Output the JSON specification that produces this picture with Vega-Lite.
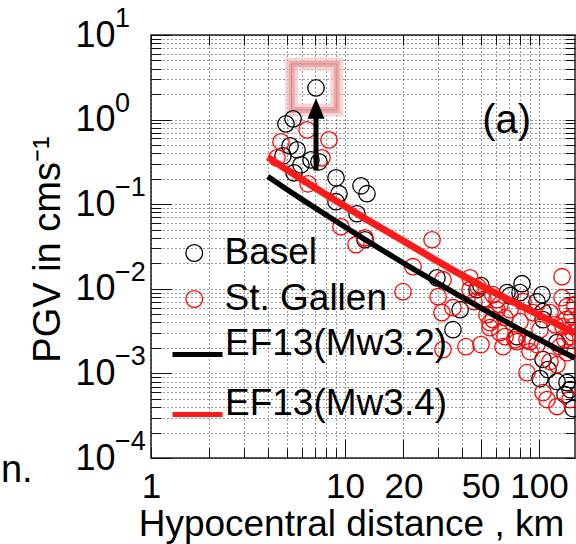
{
  "$schema": "https://vega.github.io/schema/vega-lite/v6.json",
  "width": 424,
  "height": 423,
  "autosize": {"type": "none"},
  "padding": {"left": 151, "top": 35, "right": 1, "bottom": 86},
  "background": "white",
  "config": {
    "view": {"stroke": "#222", "strokeWidth": 1.5},
    "font": "Liberation Sans"
  },
  "datasets": {
    "points": [
      {"site": "Basel", "d": 4.96, "pgv": 0.889},
      {"site": "Basel", "d": 5.40, "pgv": 1.02},
      {"site": "Basel", "d": 5.21, "pgv": 0.489},
      {"site": "Basel", "d": 5.66, "pgv": 0.439},
      {"site": "Basel", "d": 4.79, "pgv": 0.373},
      {"site": "Basel", "d": 5.93, "pgv": 0.292},
      {"site": "Basel", "d": 5.46, "pgv": 0.235},
      {"site": "Basel", "d": 7.34, "pgv": 0.317},
      {"site": "Basel", "d": 6.68, "pgv": 0.334},
      {"site": "Basel", "d": 7.09, "pgv": 2.37},
      {"site": "Basel", "d": 8.99, "pgv": 0.205},
      {"site": "Basel", "d": 12.09, "pgv": 0.165},
      {"site": "Basel", "d": 12.98, "pgv": 0.133},
      {"site": "Basel", "d": 9.31, "pgv": 0.133},
      {"site": "Basel", "d": 8.99, "pgv": 0.107},
      {"site": "Basel", "d": 11.53, "pgv": 0.0771},
      {"site": "Basel", "d": 12.68, "pgv": 0.038},
      {"site": "Basel", "d": 29.8, "pgv": 0.0135},
      {"site": "Basel", "d": 36.0, "pgv": 0.00329},
      {"site": "Basel", "d": 39.2, "pgv": 0.00566},
      {"site": "Basel", "d": 50.2, "pgv": 0.0109},
      {"site": "Basel", "d": 47.9, "pgv": 0.00975},
      {"site": "Basel", "d": 68.4, "pgv": 0.0090},
      {"site": "Basel", "d": 70.9, "pgv": 0.0083},
      {"site": "Basel", "d": 81.7, "pgv": 0.01148},
      {"site": "Basel", "d": 79.8, "pgv": 0.0090},
      {"site": "Basel", "d": 103.6, "pgv": 0.00852},
      {"site": "Basel", "d": 97.7, "pgv": 0.00704},
      {"site": "Basel", "d": 104.9, "pgv": 0.00537},
      {"site": "Basel", "d": 104.9, "pgv": 0.00432},
      {"site": "Basel", "d": 77.0, "pgv": 0.00272},
      {"site": "Basel", "d": 123.8, "pgv": 0.00231},
      {"site": "Basel", "d": 104.9, "pgv": 0.00146},
      {"site": "Basel", "d": 101.2, "pgv": 0.000868},
      {"site": "Basel", "d": 123.8, "pgv": 0.0008},
      {"site": "Basel", "d": 139.4, "pgv": 0.000778},
      {"site": "Basel", "d": 144.5, "pgv": 0.000644},
      {"site": "Basel", "d": 149.7, "pgv": 0.000384},
      {"site": "Basel", "d": 136.1, "pgv": 0.000562},
      {"site": "Basel", "d": 111.3, "pgv": 0.00111},
      {"site": "St. Gallen", "d": 6.37, "pgv": 0.756},
      {"site": "St. Gallen", "d": 4.68, "pgv": 0.546},
      {"site": "St. Gallen", "d": 8.27, "pgv": 0.576},
      {"site": "St. Gallen", "d": 4.46, "pgv": 0.353},
      {"site": "St. Gallen", "d": 7.61, "pgv": 0.353},
      {"site": "St. Gallen", "d": 6.45, "pgv": 0.174},
      {"site": "St. Gallen", "d": 9.53, "pgv": 0.0541},
      {"site": "St. Gallen", "d": 11.39, "pgv": 0.0332},
      {"site": "St. Gallen", "d": 12.68, "pgv": 0.0401},
      {"site": "St. Gallen", "d": 28.1, "pgv": 0.038},
      {"site": "St. Gallen", "d": 22.4, "pgv": 0.01824},
      {"site": "St. Gallen", "d": 19.9, "pgv": 0.00925},
      {"site": "St. Gallen", "d": 30.2, "pgv": 0.00807},
      {"site": "St. Gallen", "d": 32.0, "pgv": 0.0128},
      {"site": "St. Gallen", "d": 44.1, "pgv": 0.0135},
      {"site": "St. Gallen", "d": 48.5, "pgv": 0.0106},
      {"site": "St. Gallen", "d": 31.6, "pgv": 0.00523},
      {"site": "St. Gallen", "d": 36.0, "pgv": 0.00598},
      {"site": "St. Gallen", "d": 32.0, "pgv": 0.00191},
      {"site": "St. Gallen", "d": 42.0, "pgv": 0.00207},
      {"site": "St. Gallen", "d": 50.2, "pgv": 0.00219},
      {"site": "St. Gallen", "d": 55.9, "pgv": 0.00347},
      {"site": "St. Gallen", "d": 57.9, "pgv": 0.00432},
      {"site": "St. Gallen", "d": 53.9, "pgv": 0.00494},
      {"site": "St. Gallen", "d": 60.7, "pgv": 0.00566},
      {"site": "St. Gallen", "d": 46.2, "pgv": 0.00704},
      {"site": "St. Gallen", "d": 131.4, "pgv": 0.0139},
      {"site": "St. Gallen", "d": 82.7, "pgv": 0.00704},
      {"site": "St. Gallen", "d": 131.4, "pgv": 0.00785},
      {"site": "St. Gallen", "d": 139.4, "pgv": 0.00615},
      {"site": "St. Gallen", "d": 70.9, "pgv": 0.00566},
      {"site": "St. Gallen", "d": 93.1, "pgv": 0.00523},
      {"site": "St. Gallen", "d": 114.0, "pgv": 0.00523},
      {"site": "St. Gallen", "d": 133.0, "pgv": 0.00357},
      {"site": "St. Gallen", "d": 149.7, "pgv": 0.00303},
      {"site": "St. Gallen", "d": 144.5, "pgv": 0.00272},
      {"site": "St. Gallen", "d": 62.9, "pgv": 0.00303},
      {"site": "St. Gallen", "d": 77.0, "pgv": 0.00237},
      {"site": "St. Gallen", "d": 65.2, "pgv": 0.00207},
      {"site": "St. Gallen", "d": 86.7, "pgv": 0.0025},
      {"site": "St. Gallen", "d": 114.0, "pgv": 0.00138},
      {"site": "St. Gallen", "d": 123.8, "pgv": 0.00127},
      {"site": "St. Gallen", "d": 86.7, "pgv": 0.00102},
      {"site": "St. Gallen", "d": 104.9, "pgv": 0.000593},
      {"site": "St. Gallen", "d": 110.0, "pgv": 0.000491},
      {"site": "St. Gallen", "d": 123.8, "pgv": 0.000406},
      {"site": "St. Gallen", "d": 144.5, "pgv": 0.000491},
      {"site": "St. Gallen", "d": 139.4, "pgv": 0.00176},
      {"site": "St. Gallen", "d": 128.3, "pgv": 0.00207},
      {"site": "St. Gallen", "d": 148.0, "pgv": 0.00469},
      {"site": "St. Gallen", "d": 149.7, "pgv": 0.00357},
      {"site": "St. Gallen", "d": 60.7, "pgv": 0.00743},
      {"site": "St. Gallen", "d": 51.4, "pgv": 0.00743},
      {"site": "St. Gallen", "d": 66.8, "pgv": 0.00456},
      {"site": "St. Gallen", "d": 79.8, "pgv": 0.00409},
      {"site": "St. Gallen", "d": 101.2, "pgv": 0.00329},
      {"site": "St. Gallen", "d": 89.9, "pgv": 0.00181},
      {"site": "St. Gallen", "d": 120.9, "pgv": 0.00377},
      {"site": "St. Gallen", "d": 136.1, "pgv": 0.0025},
      {"site": "St. Gallen", "d": 97.7, "pgv": 0.00219},
      {"site": "St. Gallen", "d": 44.1, "pgv": 0.00975},
      {"site": "St. Gallen", "d": 57.9, "pgv": 0.00852},
      {"site": "St. Gallen", "d": 62.9, "pgv": 0.00649},
      {"site": "St. Gallen", "d": 55.9, "pgv": 0.00398},
      {"site": "St. Gallen", "d": 66.8, "pgv": 0.00272},
      {"site": "St. Gallen", "d": 75.2, "pgv": 0.0025},
      {"site": "St. Gallen", "d": 89.9, "pgv": 0.00237},
      {"site": "St. Gallen", "d": 153.0, "pgv": 0.00649},
      {"site": "St. Gallen", "d": 137.8, "pgv": 0.00432}
    ],
    "lines": [
      {"model": "EF13(Mw3.2)", "d": 4.0, "pgv": 0.212},
      {"model": "EF13(Mw3.2)", "d": 5.0, "pgv": 0.1503},
      {"model": "EF13(Mw3.2)", "d": 6.0, "pgv": 0.114},
      {"model": "EF13(Mw3.2)", "d": 8.0, "pgv": 0.0744},
      {"model": "EF13(Mw3.2)", "d": 10.0, "pgv": 0.0537},
      {"model": "EF13(Mw3.2)", "d": 13.0, "pgv": 0.0368},
      {"model": "EF13(Mw3.2)", "d": 17.0, "pgv": 0.0253},
      {"model": "EF13(Mw3.2)", "d": 22.0, "pgv": 0.0177},
      {"model": "EF13(Mw3.2)", "d": 30.0, "pgv": 0.01164},
      {"model": "EF13(Mw3.2)", "d": 40.0, "pgv": 0.00796},
      {"model": "EF13(Mw3.2)", "d": 55.0, "pgv": 0.00528},
      {"model": "EF13(Mw3.2)", "d": 75.0, "pgv": 0.00358},
      {"model": "EF13(Mw3.2)", "d": 100.0, "pgv": 0.00252},
      {"model": "EF13(Mw3.2)", "d": 130.0, "pgv": 0.00184},
      {"model": "EF13(Mw3.2)", "d": 153.0, "pgv": 0.00152},
      {"model": "EF13(Mw3.4)", "d": 4.0, "pgv": 0.359},
      {"model": "EF13(Mw3.4)", "d": 5.0, "pgv": 0.257},
      {"model": "EF13(Mw3.4)", "d": 6.0, "pgv": 0.196},
      {"model": "EF13(Mw3.4)", "d": 8.0, "pgv": 0.1296},
      {"model": "EF13(Mw3.4)", "d": 10.0, "pgv": 0.0946},
      {"model": "EF13(Mw3.4)", "d": 13.0, "pgv": 0.0656},
      {"model": "EF13(Mw3.4)", "d": 17.0, "pgv": 0.0456},
      {"model": "EF13(Mw3.4)", "d": 22.0, "pgv": 0.0323},
      {"model": "EF13(Mw3.4)", "d": 30.0, "pgv": 0.0212},
      {"model": "EF13(Mw3.4)", "d": 40.0, "pgv": 0.0145},
      {"model": "EF13(Mw3.4)", "d": 55.0, "pgv": 0.0098},
      {"model": "EF13(Mw3.4)", "d": 75.0, "pgv": 0.00685},
      {"model": "EF13(Mw3.4)", "d": 100.0, "pgv": 0.0049},
      {"model": "EF13(Mw3.4)", "d": 130.0, "pgv": 0.00362},
      {"model": "EF13(Mw3.4)", "d": 153.0, "pgv": 0.00301}
    ],
    "exponents": [
      {"tick": 10, "exp": "1"},
      {"tick": 1, "exp": "0"},
      {"tick": 0.1, "exp": "−1"},
      {"tick": 0.01, "exp": "−2"},
      {"tick": 0.001, "exp": "−3"},
      {"tick": 0.0001, "exp": "−4"}
    ]
  },
  "layer": [
    {
      "data": {"values": [{}]},
      "mark": {"type": "rect", "fillOpacity": 0, "stroke": "#f7c4c4", "strokeWidth": 13, "opacity": 0.7},
      "encoding": {
        "x": {"datum": 5.31, "type": "quantitative", "scale": {"type": "log", "domain": [1, 153.3], "nice": false}, "axis": null},
        "x2": {"datum": 9.06},
        "y": {"datum": 1.30, "type": "quantitative", "scale": {"type": "log", "domain": [0.0001, 10], "nice": false}, "axis": null},
        "y2": {"datum": 4.55}
      }
    },
    {
      "data": {"values": [{}]},
      "mark": {"type": "rect", "fillOpacity": 0, "stroke": "#f29a9a", "strokeWidth": 6, "opacity": 0.75},
      "encoding": {
        "x": {"datum": 5.31, "type": "quantitative", "axis": null},
        "x2": {"datum": 9.06},
        "y": {"datum": 1.30, "type": "quantitative", "axis": null},
        "y2": {"datum": 4.55}
      }
    },
    {
      "data": {"values": [{}]},
      "mark": {"type": "rect", "fillOpacity": 0, "stroke": "#b59a9a", "strokeWidth": 1},
      "encoding": {
        "x": {"datum": 5.31, "type": "quantitative", "axis": null},
        "x2": {"datum": 9.06},
        "y": {"datum": 1.30, "type": "quantitative", "axis": null},
        "y2": {"datum": 4.55}
      }
    },
    {
      "data": {"name": "points"},
      "mark": {"type": "point", "shape": "circle", "filled": false, "size": 270, "strokeWidth": 1.3, "opacity": 1},
      "encoding": {
        "x": {
          "field": "d", "type": "quantitative",
          "scale": {"type": "log", "domain": [1, 153.3], "nice": false},
          "axis": {
            "orient": "bottom",
            "values": [1, 2, 3, 4, 5, 6, 7, 8, 9, 10, 20, 30, 40, 50, 60, 70, 80, 90, 100],
            "labelExpr": "indexof([1, 10, 20, 50, 100], datum.value) >= 0 ? format(datum.value, 'd') : ''",
            "grid": true, "gridDash": [1, 3], "gridColor": "#000", "gridOpacity": 0.8, "gridWidth": 1,
            "domain": false,
            "ticks": true, "tickSize": -10, "tickColor": "#111", "tickWidth": 1,
            "labelFont": "Liberation Sans", "labelFontSize": 35, "labelColor": "#000",
            "labelPadding": 49, "labelBaseline": "alphabetic", "labelOverlap": false, "labelFlush": false,
            "title": "Hypocentral distance , km",
            "titleFont": "Liberation Sans", "titleFontSize": 37, "titleFontWeight": "normal", "titleColor": "#000",
            "titleX": 200, "titleY": 77, "titleBaseline": "alphabetic", "titleAlign": "center"
          }
        },
        "y": {
          "field": "pgv", "type": "quantitative",
          "scale": {"type": "log", "domain": [0.0001, 10], "nice": false},
          "axis": {
            "orient": "left",
            "values": [0.0001, 0.0002, 0.0003, 0.0004, 0.0005, 0.0006, 0.0007, 0.0008, 0.0009, 0.001, 0.002, 0.003, 0.004, 0.005, 0.006, 0.007, 0.008, 0.009, 0.01, 0.02, 0.03, 0.04, 0.05, 0.06, 0.07, 0.08, 0.09, 0.1, 0.2, 0.3, 0.4, 0.5, 0.6, 0.7, 0.8, 0.9, 1, 2, 3, 4, 5, 6, 7, 8, 9, 10],
            "labelExpr": "abs(log(datum.value) / LN10 - round(log(datum.value) / LN10)) < 0.001 ? '10' : ''",
            "grid": true, "gridDash": [1, 3], "gridColor": "#000", "gridOpacity": 0.8, "gridWidth": 1,
            "domain": false,
            "ticks": true, "tickSize": -10, "tickColor": "#111", "tickWidth": 1,
            "labelFont": "Liberation Sans", "labelFontSize": 36, "labelColor": "#000",
            "labelPadding": 46, "labelAlign": "right", "labelBaseline": "middle", "labelOverlap": false, "labelFlush": false,
            "title": "PGV in cms⁻¹",
            "titleFont": "Liberation Sans", "titleFontSize": 38, "titleFontWeight": "normal", "titleColor": "#000",
            "titleX": -92, "titleY": 214, "titleAngle": -90, "titleBaseline": "alphabetic", "titleAlign": "center"
          }
        },
        "stroke": {
          "field": "site", "type": "nominal",
          "scale": {"domain": ["Basel", "St. Gallen"], "range": ["#000000", "#ff0000"]},
          "legend": {
            "orient": "none", "legendX": 24.75, "legendY": 199.5, "title": null, "padding": 0,
            "symbolType": "circle", "symbolSize": 280, "symbolStrokeWidth": 1.3,
            "labelFont": "Liberation Sans", "labelFontSize": 37, "labelColor": "#000", "labelOffset": 11.75,
            "rowPadding": 8, "labelLimit": 400
          }
        }
      }
    },
    {
      "data": {"name": "lines"},
      "mark": {"type": "line", "interpolate": "monotone", "strokeCap": "butt"},
      "encoding": {
        "x": {
          "field": "d", "type": "quantitative",
          "scale": {"type": "log", "domain": [1, 153.3], "nice": false},
          "axis": {
            "orient": "top",
            "values": [1, 2, 3, 4, 5, 6, 7, 8, 9, 10, 20, 30, 40, 50, 60, 70, 80, 90, 100],
            "labels": false, "grid": false, "domain": false,
            "ticks": true, "tickSize": -10, "tickColor": "#111", "tickWidth": 1, "title": null
          }
        },
        "y": {
          "field": "pgv", "type": "quantitative",
          "scale": {"type": "log", "domain": [0.0001, 10], "nice": false},
          "axis": {
            "orient": "right",
            "values": [0.0001, 0.0002, 0.0003, 0.0004, 0.0005, 0.0006, 0.0007, 0.0008, 0.0009, 0.001, 0.002, 0.003, 0.004, 0.005, 0.006, 0.007, 0.008, 0.009, 0.01, 0.02, 0.03, 0.04, 0.05, 0.06, 0.07, 0.08, 0.09, 0.1, 0.2, 0.3, 0.4, 0.5, 0.6, 0.7, 0.8, 0.9, 1, 2, 3, 4, 5, 6, 7, 8, 9, 10],
            "labels": false, "grid": false, "domain": false,
            "ticks": true, "tickSize": -10, "tickColor": "#111", "tickWidth": 1, "title": null
          }
        },
        "stroke": {
          "field": "model", "type": "nominal",
          "scale": {"domain": ["EF13(Mw3.2)", "EF13(Mw3.4)"], "range": ["#000000", "#ff1a1a"]},
          "legend": {
            "orient": "none", "legendX": 19, "legendY": 292, "title": null, "padding": 0,
            "symbolType": "stroke", "symbolSize": 2500, "symbolStrokeWidth": 5,
            "labelFont": "Liberation Sans", "labelFontSize": 37, "labelColor": "#000", "labelOffset": 0,
            "labelBaseline": "alphabetic", "rowPadding": 19, "labelLimit": 400
          }
        },
        "strokeWidth": {
          "field": "model", "type": "ordinal",
          "scale": {"domain": ["EF13(Mw3.2)", "EF13(Mw3.4)"], "range": [5.5, 7]},
          "legend": null
        }
      }
    },
    {
      "data": {"values": [{}]},
      "mark": {"type": "rule", "strokeWidth": 5, "color": "#000"},
      "encoding": {
        "x": {"datum": 7.09, "type": "quantitative", "axis": null},
        "y": {"datum": 0.25, "type": "quantitative", "axis": null},
        "y2": {"datum": 1.1}
      }
    },
    {
      "data": {"values": [{}]},
      "mark": {"type": "point", "shape": "M0,-1.2L-1,1.2L1,1.2Z", "filled": true, "size": 289, "color": "#000", "opacity": 1},
      "encoding": {
        "x": {"datum": 7.09, "type": "quantitative", "axis": null},
        "y": {"datum": 1.355, "type": "quantitative", "axis": null}
      }
    },
    {
      "data": {"values": [{}]},
      "mark": {"type": "text", "fontSize": 40, "font": "Liberation Sans", "align": "center", "baseline": "middle", "color": "#000"},
      "encoding": {
        "x": {
          "datum": 68.1, "type": "quantitative",
          "axis": {
            "orient": "bottom", "values": [10, 20, 50, 100],
            "labels": false, "grid": false, "domain": false,
            "ticks": true, "tickSize": -19, "tickColor": "#111", "tickWidth": 1, "title": null
          }
        },
        "y": {"datum": 0.953, "type": "quantitative", "axis": null},
        "text": {"value": "(a)"}
      }
    },
    {
      "data": {"name": "exponents"},
      "mark": {"type": "text", "fontSize": 27, "font": "Liberation Sans", "align": "left", "baseline": "middle", "dx": -36, "dy": -16, "color": "#000"},
      "encoding": {
        "x": {"datum": 1, "type": "quantitative", "axis": null},
        "y": {
          "field": "tick", "type": "quantitative",
          "axis": {
            "orient": "left", "values": [0.0001, 0.001, 0.01, 0.1, 1, 10],
            "labels": false, "grid": false, "domain": false,
            "ticks": true, "tickSize": -20, "tickColor": "#111", "tickWidth": 1, "title": null
          }
        },
        "text": {"field": "exp", "type": "nominal"}
      }
    },
    {
      "data": {"values": [{}]},
      "mark": {"type": "text", "fontSize": 38, "font": "Liberation Sans", "align": "left", "baseline": "alphabetic", "color": "#000"},
      "encoding": {
        "x": {"datum": 0.1685, "type": "quantitative", "axis": null},
        "y": {"datum": 0.0000514, "type": "quantitative", "axis": null},
        "text": {"value": "n."}
      }
    }
  ],
  "resolve": {"axis": {"x": "independent", "y": "independent"}, "scale": {"stroke": "independent"}}
}
